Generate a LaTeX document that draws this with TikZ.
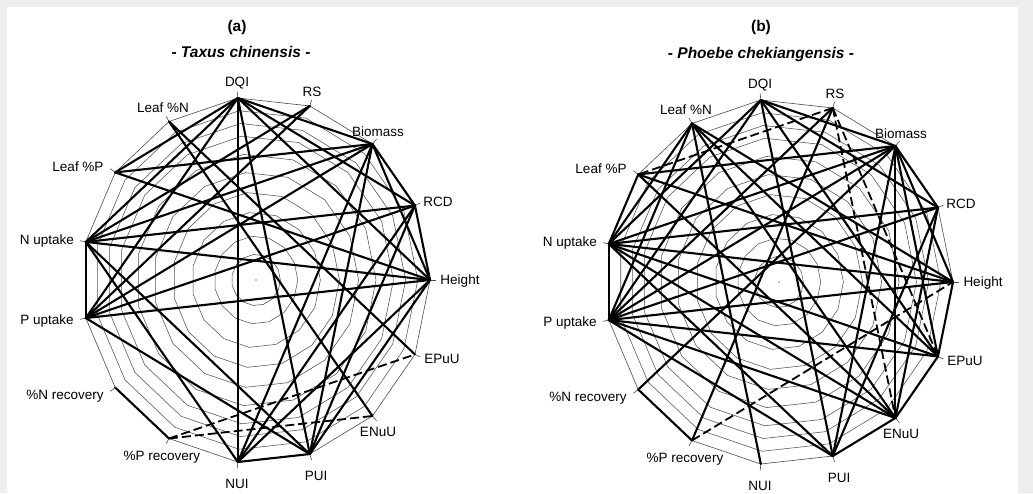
\documentclass[tikz,border=0pt]{standalone}
\usepackage{fontspec}
\setmainfont{Liberation Sans}
\tikzset{
  ring/.style={draw=black!68, line width=0.55pt},
  rim/.style={draw=black!70, line width=0.6pt},
  edge/.style={line width=2.1pt, line cap=round},
  negedge/.style={line width=1.8pt, dash pattern=on 9pt off 4pt},
  varlabel/.style={font=\fontsize{13.5}{16}\selectfont, inner sep=0pt},
  paneltag/.style={font=\fontsize{15.5}{18}\selectfont\bfseries},
  species/.style={font=\fontsize{15.5}{18}\selectfont\bfseries\itshape},
}

\begin{document}
\begin{tikzpicture}[x=1pt,y=1pt]
  \fill[black!7] (0,0) rectangle (1033,493);
  \fill[white] (7,0) rectangle (1018,486);

  % the two circles of variables
  \foreach \p/\cx/\cy in {a/256/213, b/779/211} {
    \begin{scope}[shift={(\cx,\cy)}, x=174pt, y=183pt]
      \foreach \r in {0.14,0.24,0.37,0.48,0.59,0.69,0.79,0.86,0.93}
        \draw[ring] (0:\r) \foreach \ang in {24,48,...,336} { -- (\ang:\r) } -- cycle;
      \draw[rim] (0:1) \foreach \ang in {24,48,...,336} { -- (\ang:1) } -- cycle;
      \fill (0,0) circle (0.6pt);
      \foreach \v/\ang in {H/0, RCD/24, B/48, RS/72, DQI/96, LN/120, LP/144, NU/168,
                           PU/192, NR/216, PR/240, NUI/264, PUI/288, EN/312, EP/336} {
        \coordinate (\p\v) at (\ang:1);
        \draw[rim] (\ang:1) -- (\ang:1.035);
      }
      \foreach \dx/\dy/\txt in {-19/197/DQI, 56/188/RS, 122/148/Biomass, 182/78/RCD,
                                204/-1/Height, 186/-79/EPuU, 122/-152/ENuU, 60/-196/PUI,
                                -19/-204/NUI, -94/-177/\%P recovery, -191/-116/\%N recovery,
                                -209/-41/P uptake, -209/39/N uptake, -178/113/Leaf \%P,
                                -93/172/Leaf \%N}
        \node[varlabel] at (\dx pt,\dy pt) {\txt};
    \end{scope}
  }

  \node[paneltag] at (237,466) {(a)};
  \node[species] at (241,441) {- Taxus chinensis -};
  \node[paneltag] at (761,466) {(b)};
  \node[species] at (761,439) {- Phoebe chekiangensis -};

  % (a) Taxus chinensis
  \foreach \u/\w in {NU/PU, NUI/PUI, NR/PR, B/RCD, RCD/H,
                     DQI/NUI, DQI/B, DQI/RCD, DQI/H, DQI/PUI, DQI/LP, DQI/NU, DQI/PU,
                     RS/NU, RS/PU, B/LP, B/NU, B/PU, B/PUI, B/NUI, B/H,
                     RCD/NU, RCD/PU, RCD/PUI, RCD/NUI,
                     H/NU, H/PU, H/PUI, H/NUI, H/LP,
                     LN/EN, LN/EP, NU/NUI, NU/PUI, PU/PUI}
    \draw[edge] (a\u) -- (a\w);
  \foreach \u/\w in {PR/EP, PR/EN}
    \draw[negedge] (a\u) -- (a\w);

  % (b) Phoebe chekiangensis
  \foreach \u/\w in {NU/PU, NR/PR, PUI/EN, EN/EP, EP/H, B/RCD,
                     DQI/B, DQI/RCD, DQI/EP, DQI/PUI, DQI/NU, DQI/PU, NR/B,
                     LN/NU, LN/PU, LN/EN, LN/EP, LN/H, NUI/LN,
                     LP/NU, LP/H, LP/EN, RS/PR, RS/PU,
                     B/NU, B/PU, B/LP, B/PUI, B/EN, B/EP, B/H,
                     RCD/NU, RCD/PU, RCD/PUI, RCD/EN, H/NU, H/PU,
                     EP/NU, EP/PU, EN/NU, EN/PU, PUI/NU, PUI/PU}
    \draw[edge] (b\u) -- (b\w);
  \foreach \u/\w in {PR/H, RS/LP, RS/EN, RS/EP}
    \draw[negedge] (b\u) -- (b\w);
\end{tikzpicture}
\end{document}
